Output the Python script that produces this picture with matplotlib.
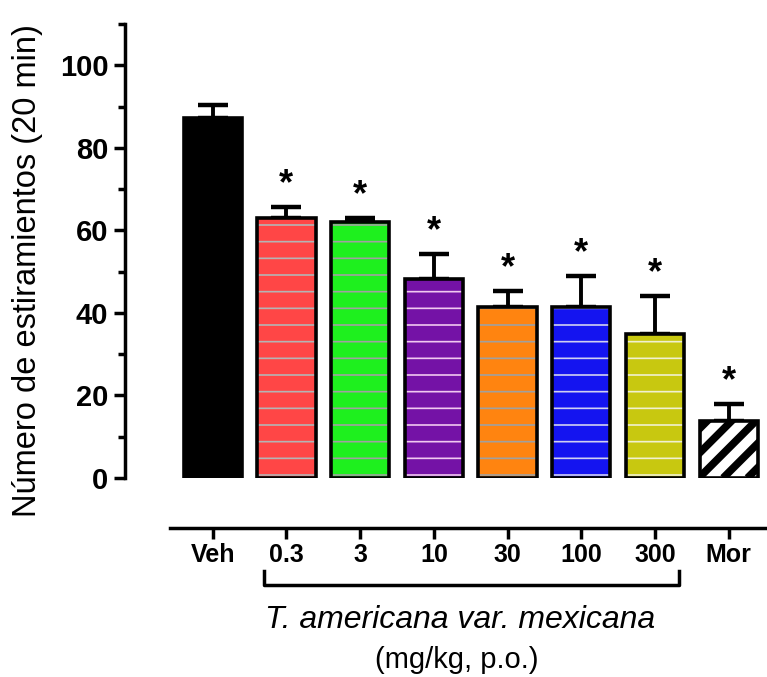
import matplotlib
matplotlib.use("Agg")
import matplotlib.pyplot as plt
from matplotlib.ticker import MultipleLocator
import numpy as np

plt.rcParams['font.family'] = ['Liberation Sans', 'DejaVu Sans']

groups = ["Veh", "0.3", "3", "10", "30", "100", "300", "Mor"]
means = [87.2, 63.0, 62.0, 48.2, 41.4, 41.4, 34.9, 13.8]
sem = [3.1, 2.6, 1.0, 6.0, 3.9, 7.5, 9.2, 4.1]
signif = [False, True, True, True, True, True, True, True]
colors = ["#000000", "#ff4646", "#1ef01e", "#7412a6", "#ff8410",
          "#1414f0", "#c8c810", "#ffffff"]
stripes = ["", "#b4b4b4", "#a0a0a0", "#f0c8f0", "#a0a0a0",
           "#d0d0f0", "#f0f0d0", ""]

fig = plt.figure(figsize=(7.67, 6.77), dpi=100)
ax = fig.add_axes([125 / 767, 1 - 478 / 677, 1 - 125 / 767, (478 - 24) / 677])
ax.set_xlim(-1.19, 7.52)
ax.set_ylim(0, 110)

x = np.arange(len(groups))
width = 0.79

# data units per pixel, used for the 45-degree stripes on the Mor bar
fig.canvas.draw()
p0 = ax.transData.transform((0, 0))
p1 = ax.transData.transform((1, 1))
y_per_x = (p1[0] - p0[0]) / (p1[1] - p0[1])

plt.rcParams['hatch.linewidth'] = 1.2
for i in range(len(groups)):
    if groups[i] == "Veh":
        ax.bar(x[i], means[i], width, color=colors[i], edgecolor="black",
               linewidth=2.6, zorder=2)
        continue
    if groups[i] == "Mor":
        fill = ax.bar(x[i], means[i], width, color="white", linewidth=0,
                      zorder=2)[0]
        left = x[i] - width / 2
        for off in np.arange(-1.0, 1.0, 0.33):
            xs = np.array([left + off, left + off + 1.0])
            line, = ax.plot(xs, (xs - left - off) * y_per_x, color="black",
                            linewidth=5.5, solid_capstyle="butt", zorder=2.5)
            line.set_clip_path(fill)
    else:
        ax.bar(x[i], means[i], width, color=colors[i], edgecolor=stripes[i],
               hatch="-", linewidth=0, zorder=2)
    ax.bar(x[i], means[i], width, fill=False, edgecolor="black",
           linewidth=2.6, zorder=3)

ax.errorbar(x, means, yerr=[np.zeros(len(sem)), sem], fmt="none",
            ecolor="black", elinewidth=2.8, capsize=11, capthick=3.2, zorder=1)

for i in range(len(groups)):
    if signif[i]:
        ax.text(x[i], means[i] + sem[i] + 1.2, "*", ha="center", va="bottom",
                fontsize=26, fontweight="bold")

ax.set_xlim(-1.19, 7.52)
ax.set_ylim(0, 110)
ax.yaxis.set_major_locator(MultipleLocator(20))
ax.yaxis.set_minor_locator(MultipleLocator(10))
ax.set_yticks([0, 20, 40, 60, 80, 100])
ax.tick_params(axis="y", which="major", length=8, width=2.5, labelsize=21, pad=4)
ax.tick_params(axis="y", which="minor", length=5, width=2.5)
for lbl in ax.get_yticklabels():
    lbl.set_fontweight("bold")

ax.spines["top"].set_visible(False)
ax.spines["right"].set_visible(False)
ax.spines["left"].set_linewidth(2.5)
ax.spines["bottom"].set_position(("outward", 36))
ax.spines["bottom"].set_bounds(-0.58, 7.52)
ax.spines["bottom"].set_linewidth(2.5)

ax.set_xticks(x)
ax.set_xticklabels(groups, fontsize=18, fontweight="bold")
ax.tick_params(axis="x", length=8, width=2.5, pad=3)

ax.set_ylabel("Número de estiramientos (20 min)", fontsize=23.5)
ax.yaxis.set_label_coords(-0.128, 0.458)

# bracket under the extract doses
ax.plot([0.69, 0.69, 6.32, 6.32], [-22.6, -25.9, -25.9, -22.6], color="black",
        linewidth=2.5, clip_on=False)

fig.text(460 / 767, 1 - 620 / 677, "T. americana var. mexicana", ha="center",
         va="center", fontsize=23, style="italic")
fig.text(457 / 767, 1 - 660 / 677, "(mg/kg, p.o.)", ha="center",
         va="center", fontsize=21)

fig.savefig("out.png", dpi=100)
